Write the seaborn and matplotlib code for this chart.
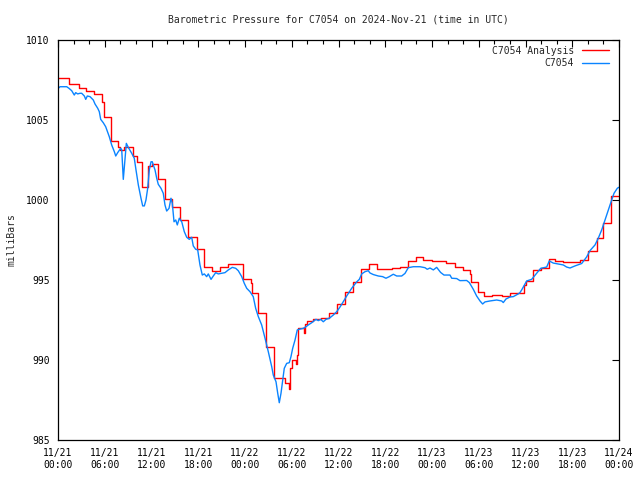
import pandas as pd
import matplotlib
matplotlib.use("Agg")
import matplotlib.pyplot as plt
import matplotlib.dates as mdates
import seaborn as sns

# Hours since 2024-11-21 00:00 UTC and pressure (mb)
analysis_hours = [0.00, 1.41, 2.70, 3.59, 4.62, 5.65, 5.90, 6.80, 7.70, 7.96,
                  8.47, 9.59, 10.10, 10.82, 11.51, 12.03, 12.80, 13.73, 14.59, 15.66,
                  16.72, 17.88, 18.78, 19.73, 20.79, 21.78, 23.78, 24.73, 24.94, 25.71,
                  26.66, 27.76, 29.13, 29.68, 29.77, 30.03, 30.51, 30.63, 30.76, 31.57,
                  31.70, 31.92, 32.76, 33.71, 34.82, 35.84, 36.83, 37.86, 38.95, 39.95,
                  40.90, 42.83, 43.89, 44.92, 45.94, 46.88, 47.96, 49.79, 50.95, 51.98,
                  52.88, 53.00, 53.86, 54.67, 55.66, 56.94, 58.01, 59.81, 60.02, 60.92,
                  61.95, 63.05, 63.78, 64.85, 66.99, 68.02, 69.13, 69.90, 70.97, 71.91]
analysis_mb = [1007.61, 1007.23, 1006.98, 1006.81, 1006.61, 1006.14, 1005.17, 1003.69, 1003.29, 1003.13,
               1003.29, 1002.75, 1002.39, 1000.83, 1002.13, 1002.25, 1001.29, 1000.06, 999.58, 998.75,
               997.67, 996.92, 995.79, 995.58, 995.83, 995.98, 995.04, 994.79, 994.17, 992.96,
               990.79, 988.86, 988.54, 988.17, 989.48, 990.00, 989.75, 990.31, 991.98, 991.67,
               992.23, 992.46, 992.54, 992.63, 992.96, 993.48, 994.22, 994.86, 995.67, 995.98,
               995.69, 995.73, 995.79, 996.17, 996.46, 996.28, 996.21, 996.08, 995.79, 995.63,
               995.36, 994.86, 994.23, 994.00, 994.06, 994.02, 994.17, 994.69, 994.96, 995.63,
               995.77, 996.29, 996.21, 996.14, 996.25, 996.83, 997.61, 998.58, 1000.27, 1000.27]

station_hours = [0.04, 0.26, 1.12, 1.41, 1.76, 2.09, 2.27, 2.53, 2.82, 3.04,
                 3.38, 3.56, 3.76, 4.11, 4.53, 4.75, 5.10, 5.30, 5.48, 5.81,
                 6.12, 6.58, 6.89, 7.23, 7.41, 7.66, 8.05, 8.18, 8.38, 8.60,
                 8.77, 9.02, 9.46, 9.79, 10.01, 10.31, 10.65, 10.87, 11.08, 11.29,
                 11.51, 11.72, 11.94, 12.10, 12.23, 12.45, 12.67, 12.87, 13.22, 13.51,
                 13.73, 13.95, 14.25, 14.50, 14.67, 14.89, 15.11, 15.31, 15.57, 15.88,
                 16.21, 16.52, 16.85, 17.16, 17.36, 17.67, 17.93, 18.22, 18.52, 18.78,
                 19.08, 19.29, 19.64, 19.93, 20.24, 20.57, 21.01, 21.43, 21.86, 22.37,
                 22.81, 23.14, 23.58, 23.91, 24.22, 24.64, 25.06, 25.37, 25.71, 26.14,
                 26.57, 26.99, 27.43, 27.63, 27.98, 28.20, 28.40, 28.62, 28.84, 29.04,
                 29.35, 29.68, 29.90, 30.12, 30.42, 30.71, 30.97, 31.48, 31.83, 32.12,
                 32.56, 33.11, 33.41, 33.71, 34.05, 34.39, 34.82, 35.33, 35.77, 36.19,
                 36.61, 37.05, 37.69, 38.33, 38.67, 38.98, 39.40, 39.82, 40.04, 40.47,
                 41.11, 41.67, 42.09, 42.52, 43.03, 43.47, 44.11, 44.53, 44.96, 45.60,
                 46.46, 47.10, 47.39, 47.74, 48.17, 48.60, 49.11, 49.54, 50.31, 50.53,
                 51.17, 51.59, 52.45, 52.79, 53.30, 53.73, 54.16, 54.50, 54.80, 55.44,
                 56.30, 56.94, 57.15, 57.49, 58.01, 58.43, 59.07, 59.29, 59.51, 59.80,
                 60.15, 60.79, 61.43, 61.95, 62.72, 63.05, 63.56, 64.21, 64.85, 65.28,
                 65.71, 66.35, 67.21, 67.85, 68.28, 68.92, 69.34, 69.78, 70.20, 70.62,
                 71.06, 71.36, 71.78, 71.96]
station_mb = [1006.98, 1007.08, 1007.08, 1006.98, 1006.83, 1006.56, 1006.71, 1006.63, 1006.67, 1006.67,
              1006.50, 1006.29, 1006.50, 1006.46, 1006.25, 1006.00, 1005.73, 1005.52, 1005.04, 1004.83,
              1004.58, 1003.96, 1003.44, 1003.02, 1002.75, 1002.96, 1003.23, 1003.13, 1001.29, 1002.54,
              1003.54, 1003.29, 1002.92, 1002.61, 1001.88, 1000.94, 1000.11, 999.63, 999.63, 1000.00,
              1000.73, 1001.88, 1002.39, 1002.39, 1002.19, 1001.88, 1001.36, 1000.98, 1000.73, 1000.42,
              999.69, 999.31, 999.48, 1000.11, 999.79, 998.64, 998.75, 998.44, 998.86, 998.64,
              998.02, 997.67, 997.54, 997.67, 997.13, 996.92, 996.88, 995.94, 995.31, 995.38,
              995.21, 995.38, 995.04, 995.25, 995.46, 995.38, 995.42, 995.46, 995.63, 995.79,
              995.73, 995.58, 995.21, 994.79, 994.48, 994.27, 993.96, 993.23, 992.71, 992.19,
              991.36, 990.52, 989.58, 989.06, 988.64, 987.92, 987.33, 987.92, 988.75, 989.48,
              989.79, 989.83, 990.21, 990.73, 991.25, 991.88, 991.92, 991.98, 992.08, 992.19,
              992.33, 992.54, 992.46, 992.54, 992.39, 992.54, 992.61, 992.81, 993.02, 993.31,
              993.64, 994.00, 994.48, 994.88, 995.04, 995.38, 995.52, 995.58, 995.44, 995.34,
              995.25, 995.21, 995.11, 995.21, 995.36, 995.25, 995.25, 995.41, 995.77, 995.83,
              995.83, 995.77, 995.67, 995.75, 995.63, 995.79, 995.47, 995.31, 995.31, 995.11,
              995.09, 994.96, 994.97, 994.84, 994.42, 994.00, 993.69, 993.50, 993.63, 993.69,
              993.75, 993.69, 993.59, 993.81, 993.94, 993.96, 994.13, 994.21, 994.38, 994.63,
              994.94, 995.04, 995.42, 995.73, 995.81, 996.19, 996.06, 996.00, 995.94, 995.81,
              995.75, 995.88, 996.03, 996.44, 996.84, 997.19, 997.61, 998.13, 998.75, 999.38,
              1000.00, 1000.42, 1000.73, 1000.79]

start = pd.Timestamp("2024-11-21 00:00")
analysis = pd.DataFrame({"time": start + pd.to_timedelta(analysis_hours, unit="h"),
                         "mb": analysis_mb})
station = pd.DataFrame({"time": start + pd.to_timedelta(station_hours, unit="h"),
                        "mb": station_mb})

sns.set_theme(style="white")
plt.rcParams["font.family"] = ["DejaVu Sans Mono"]
plt.rcParams["font.size"] = 7

fig = plt.figure(figsize=(6.4, 4.8), dpi=100)
ax = fig.add_axes([58 / 640, 40 / 480, 561 / 640, 400 / 480])

# Analysis is a stepped series, the station trace is a plain line
sns.lineplot(data=analysis, x="time", y="mb", ax=ax, color="#ff0000",
             linewidth=1.0, drawstyle="steps-post", label="C7054 Analysis")
sns.lineplot(data=station, x="time", y="mb", ax=ax, color="#0a84ff",
             linewidth=1.0, label="C7054")

ax.set_xlim(start, start + pd.Timedelta(hours=72))
ax.set_ylim(985, 1010)
ax.set_yticks([985, 990, 995, 1000, 1005, 1010])
ax.xaxis.set_major_locator(mdates.HourLocator(byhour=[0, 6, 12, 18]))
ax.xaxis.set_minor_locator(mdates.HourLocator(interval=2))
ax.xaxis.set_major_formatter(mdates.DateFormatter("%m/%d\n%H:%M"))

ax.tick_params(axis="both", which="both", direction="in", top=True, right=True,
               colors="black", labelsize=7, pad=6)
ax.tick_params(axis="both", which="major", length=5, width=0.8)
ax.tick_params(axis="x", which="minor", length=3, width=0.8)
for s in ax.spines.values():
    s.set_color("black")
    s.set_linewidth(0.9)

ax.set_xlabel("")
ax.set_ylabel("milliBars", fontsize=7, labelpad=7)
fig.text(338 / 640, 1 - 20 / 480, "Barometric Pressure for C7054 on 2024-Nov-21 (time in UTC)",
         ha="center", va="center", fontsize=7)

ax.legend(loc="upper right", bbox_to_anchor=(0.9947, 1.0025), frameon=False,
          markerfirst=False, fontsize=7, handlelength=2.8, labelspacing=0.25,
          borderaxespad=0.3)

fig.savefig("out.png", dpi=100)
